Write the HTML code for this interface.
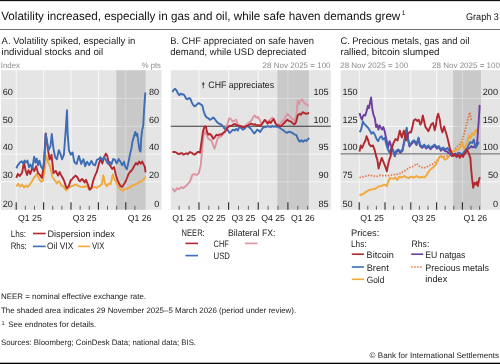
<!DOCTYPE html>
<html><head><meta charset="utf-8"><style>
html,body{margin:0;padding:0;background:#fff;width:500px;height:364px;overflow:hidden}
svg{display:block;font-family:"Liberation Sans", sans-serif;will-change:transform;text-rendering:geometricPrecision}
</style></head><body>
<svg width="500" height="364" viewBox="0 0 500 364">
<rect x="0" y="0" width="500" height="1.15" fill="#111"/>
<rect x="0" y="29.0" width="500" height="0.85" fill="#555"/>
<rect x="0" y="362.7" width="500" height="1.3" fill="#000"/>
<text x="1.2" y="19.8" font-size="11.9" fill="#111" textLength="399.1" lengthAdjust="spacingAndGlyphs">Volatility increased, especially in gas and oil, while safe haven demands grew</text>
<text x="401.8" y="14.9" font-size="6.6" fill="#111">1</text>
<text x="466" y="19.9" font-size="9.8" fill="#111" textLength="32.8" lengthAdjust="spacingAndGlyphs">Graph 3</text>
<text x="1.6" y="44" font-size="9.6" fill="#222" textLength="133.7" lengthAdjust="spacingAndGlyphs">A. Volatility spiked, especially in</text>
<text x="1.6" y="54.7" font-size="9.6" fill="#222" textLength="101.5" lengthAdjust="spacingAndGlyphs">individual stocks and oil</text>
<text x="170.3" y="44" font-size="9.6" fill="#222" textLength="143.7" lengthAdjust="spacingAndGlyphs">B. CHF appreciated on safe haven</text>
<text x="170.3" y="54.7" font-size="9.6" fill="#222" textLength="135.9" lengthAdjust="spacingAndGlyphs">demand, while USD depreciated</text>
<text x="340.4" y="44" font-size="9.6" fill="#222" textLength="129.1" lengthAdjust="spacingAndGlyphs">C. Precious metals, gas and oil</text>
<text x="340.4" y="54.7" font-size="9.6" fill="#222" textLength="99.1" lengthAdjust="spacingAndGlyphs">rallied, bitcoin slumped</text>
<text x="0.8" y="68.4" font-size="8" fill="#8a8a8a" textLength="19.2" lengthAdjust="spacingAndGlyphs">Index</text>
<text x="141.7" y="68.4" font-size="8" fill="#8a8a8a" textLength="19.2" lengthAdjust="spacingAndGlyphs">% pts</text>
<text x="262.6" y="68.4" font-size="8" fill="#8a8a8a" textLength="68.0" lengthAdjust="spacingAndGlyphs">28 Nov 2025 = 100</text>
<text x="340.2" y="68.4" font-size="8" fill="#8a8a8a" textLength="68.0" lengthAdjust="spacingAndGlyphs">28 Nov 2025 = 100</text>
<text x="432" y="68.4" font-size="8" fill="#8a8a8a" textLength="68" lengthAdjust="spacingAndGlyphs">28 Nov 2025 = 100</text>
<rect x="1" y="70.2" width="160.5" height="139.6" fill="#e5e5e5"/>
<line x1="1" y1="98.5" x2="161.5" y2="98.5" stroke="#fafafa" stroke-width="0.9"/>
<line x1="1" y1="126.3" x2="161.5" y2="126.3" stroke="#fafafa" stroke-width="0.9"/>
<line x1="1" y1="154.1" x2="161.5" y2="154.1" stroke="#fafafa" stroke-width="0.9"/>
<line x1="1" y1="181.9" x2="161.5" y2="181.9" stroke="#fafafa" stroke-width="0.9"/>
<line x1="16.2" y1="70.2" x2="16.2" y2="209.8" stroke="#fafafa" stroke-width="0.9"/>
<line x1="43.6" y1="70.2" x2="43.6" y2="209.8" stroke="#fafafa" stroke-width="0.9"/>
<line x1="71.0" y1="70.2" x2="71.0" y2="209.8" stroke="#fafafa" stroke-width="0.9"/>
<line x1="98.4" y1="70.2" x2="98.4" y2="209.8" stroke="#fafafa" stroke-width="0.9"/>
<line x1="125.8" y1="70.2" x2="125.8" y2="209.8" stroke="#fafafa" stroke-width="0.9"/>
<rect x="116.3" y="70.2" width="29.3" height="139.6" fill="#000" fill-opacity="0.12"/>
<line x1="16.2" y1="202.20000000000002" x2="16.2" y2="209.8" stroke="#2a2a2a" stroke-width="1.1"/>
<line x1="43.6" y1="202.20000000000002" x2="43.6" y2="209.8" stroke="#2a2a2a" stroke-width="1.1"/>
<line x1="71.0" y1="202.20000000000002" x2="71.0" y2="209.8" stroke="#2a2a2a" stroke-width="1.1"/>
<line x1="98.4" y1="202.20000000000002" x2="98.4" y2="209.8" stroke="#2a2a2a" stroke-width="1.1"/>
<line x1="125.8" y1="202.20000000000002" x2="125.8" y2="209.8" stroke="#2a2a2a" stroke-width="1.1"/>
<line x1="25.33" y1="205.8" x2="25.33" y2="209.8" stroke="#555" stroke-width="0.9"/>
<line x1="34.47" y1="205.8" x2="34.47" y2="209.8" stroke="#555" stroke-width="0.9"/>
<line x1="52.73" y1="205.8" x2="52.73" y2="209.8" stroke="#555" stroke-width="0.9"/>
<line x1="61.87" y1="205.8" x2="61.87" y2="209.8" stroke="#555" stroke-width="0.9"/>
<line x1="80.13" y1="205.8" x2="80.13" y2="209.8" stroke="#555" stroke-width="0.9"/>
<line x1="89.27" y1="205.8" x2="89.27" y2="209.8" stroke="#555" stroke-width="0.9"/>
<line x1="107.53" y1="205.8" x2="107.53" y2="209.8" stroke="#555" stroke-width="0.9"/>
<line x1="116.67" y1="205.8" x2="116.67" y2="209.8" stroke="#555" stroke-width="0.9"/>
<line x1="134.93" y1="205.8" x2="134.93" y2="209.8" stroke="#555" stroke-width="0.9"/>
<rect x="170.8" y="70.2" width="160.0" height="139.6" fill="#e5e5e5"/>
<line x1="170.8" y1="98.5" x2="330.8" y2="98.5" stroke="#fafafa" stroke-width="0.9"/>
<line x1="170.8" y1="126.3" x2="330.8" y2="126.3" stroke="#fafafa" stroke-width="0.9"/>
<line x1="170.8" y1="154.1" x2="330.8" y2="154.1" stroke="#fafafa" stroke-width="0.9"/>
<line x1="170.8" y1="181.9" x2="330.8" y2="181.9" stroke="#fafafa" stroke-width="0.9"/>
<line x1="198.95" y1="70.2" x2="198.95" y2="209.8" stroke="#fafafa" stroke-width="0.9"/>
<line x1="228.6" y1="70.2" x2="228.6" y2="209.8" stroke="#fafafa" stroke-width="0.9"/>
<line x1="258.25" y1="70.2" x2="258.25" y2="209.8" stroke="#fafafa" stroke-width="0.9"/>
<line x1="287.9" y1="70.2" x2="287.9" y2="209.8" stroke="#fafafa" stroke-width="0.9"/>
<rect x="277.3" y="70.2" width="31.5" height="139.6" fill="#000" fill-opacity="0.12"/>
<line x1="198.95" y1="202.20000000000002" x2="198.95" y2="209.8" stroke="#2a2a2a" stroke-width="1.1"/>
<line x1="228.6" y1="202.20000000000002" x2="228.6" y2="209.8" stroke="#2a2a2a" stroke-width="1.1"/>
<line x1="258.25" y1="202.20000000000002" x2="258.25" y2="209.8" stroke="#2a2a2a" stroke-width="1.1"/>
<line x1="287.9" y1="202.20000000000002" x2="287.9" y2="209.8" stroke="#2a2a2a" stroke-width="1.1"/>
<line x1="179.18" y1="205.8" x2="179.18" y2="209.8" stroke="#555" stroke-width="0.9"/>
<line x1="189.07" y1="205.8" x2="189.07" y2="209.8" stroke="#555" stroke-width="0.9"/>
<line x1="208.83" y1="205.8" x2="208.83" y2="209.8" stroke="#555" stroke-width="0.9"/>
<line x1="218.72" y1="205.8" x2="218.72" y2="209.8" stroke="#555" stroke-width="0.9"/>
<line x1="238.48" y1="205.8" x2="238.48" y2="209.8" stroke="#555" stroke-width="0.9"/>
<line x1="248.37" y1="205.8" x2="248.37" y2="209.8" stroke="#555" stroke-width="0.9"/>
<line x1="268.13" y1="205.8" x2="268.13" y2="209.8" stroke="#555" stroke-width="0.9"/>
<line x1="278.02" y1="205.8" x2="278.02" y2="209.8" stroke="#555" stroke-width="0.9"/>
<line x1="297.78" y1="205.8" x2="297.78" y2="209.8" stroke="#555" stroke-width="0.9"/>
<line x1="307.67" y1="205.8" x2="307.67" y2="209.8" stroke="#555" stroke-width="0.9"/>
<rect x="340.6" y="70.2" width="159.4" height="139.6" fill="#e5e5e5"/>
<line x1="340.6" y1="98.5" x2="500" y2="98.5" stroke="#fafafa" stroke-width="0.9"/>
<line x1="340.6" y1="126.3" x2="500" y2="126.3" stroke="#fafafa" stroke-width="0.9"/>
<line x1="340.6" y1="154.1" x2="500" y2="154.1" stroke="#fafafa" stroke-width="0.9"/>
<line x1="340.6" y1="181.9" x2="500" y2="181.9" stroke="#fafafa" stroke-width="0.9"/>
<line x1="359.2" y1="70.2" x2="359.2" y2="209.8" stroke="#fafafa" stroke-width="0.9"/>
<line x1="385.0" y1="70.2" x2="385.0" y2="209.8" stroke="#fafafa" stroke-width="0.9"/>
<line x1="410.8" y1="70.2" x2="410.8" y2="209.8" stroke="#fafafa" stroke-width="0.9"/>
<line x1="436.6" y1="70.2" x2="436.6" y2="209.8" stroke="#fafafa" stroke-width="0.9"/>
<line x1="462.4" y1="70.2" x2="462.4" y2="209.8" stroke="#fafafa" stroke-width="0.9"/>
<rect x="453.1" y="70.2" width="27.9" height="139.6" fill="#000" fill-opacity="0.12"/>
<line x1="359.2" y1="202.20000000000002" x2="359.2" y2="209.8" stroke="#2a2a2a" stroke-width="1.1"/>
<line x1="385.0" y1="202.20000000000002" x2="385.0" y2="209.8" stroke="#2a2a2a" stroke-width="1.1"/>
<line x1="410.8" y1="202.20000000000002" x2="410.8" y2="209.8" stroke="#2a2a2a" stroke-width="1.1"/>
<line x1="436.6" y1="202.20000000000002" x2="436.6" y2="209.8" stroke="#2a2a2a" stroke-width="1.1"/>
<line x1="462.4" y1="202.20000000000002" x2="462.4" y2="209.8" stroke="#2a2a2a" stroke-width="1.1"/>
<line x1="367.8" y1="205.8" x2="367.8" y2="209.8" stroke="#555" stroke-width="0.9"/>
<line x1="376.4" y1="205.8" x2="376.4" y2="209.8" stroke="#555" stroke-width="0.9"/>
<line x1="393.6" y1="205.8" x2="393.6" y2="209.8" stroke="#555" stroke-width="0.9"/>
<line x1="402.2" y1="205.8" x2="402.2" y2="209.8" stroke="#555" stroke-width="0.9"/>
<line x1="419.4" y1="205.8" x2="419.4" y2="209.8" stroke="#555" stroke-width="0.9"/>
<line x1="428.0" y1="205.8" x2="428.0" y2="209.8" stroke="#555" stroke-width="0.9"/>
<line x1="445.2" y1="205.8" x2="445.2" y2="209.8" stroke="#555" stroke-width="0.9"/>
<line x1="453.8" y1="205.8" x2="453.8" y2="209.8" stroke="#555" stroke-width="0.9"/>
<line x1="471.0" y1="205.8" x2="471.0" y2="209.8" stroke="#555" stroke-width="0.9"/>
<line x1="479.6" y1="205.8" x2="479.6" y2="209.8" stroke="#555" stroke-width="0.9"/>
<text x="208.3" y="88.3" font-size="9.4" fill="#222" textLength="65.8" lengthAdjust="spacingAndGlyphs">CHF appreciates</text>
<line x1="203.3" y1="88.4" x2="203.3" y2="83.5" stroke="#333" stroke-width="0.8"/>
<path d="M201.9,84.6 L203.3,81.8 L204.7,84.6 Z" fill="#333"/>
<line x1="170.8" y1="126.3" x2="330.8" y2="126.3" stroke="#333" stroke-width="1.1"/>
<path d="M16.3,186.5 L18.2,183.7 L20.2,186.5 L22.1,184.6 L24.0,187.5 L25.9,185.6 L27.8,186.9 L29.8,184.6 L31.0,182.5 L32.3,180.8 L33.5,178.4 L34.8,176.9 L36.7,174.0 L38.6,177.9 L39.8,180.0 L40.9,181.7 L42.8,180.8 L44.8,169.2 L46.3,155.8 L48.2,162.5 L49.4,164.8 L50.5,168.3 L52.3,176.7 L53.5,178.5 L54.6,180.1 L55.8,181.7 L56.9,183.6 L58.0,181.8 L59.2,181.3 L60.4,183.6 L61.5,185.9 L62.7,185.9 L63.9,187.1 L65.0,188.7 L66.2,190.5 L67.3,188.7 L68.5,188.2 L69.6,186.9 L70.8,186.6 L71.9,185.9 L73.1,186.0 L74.2,184.6 L75.4,184.7 L76.6,184.7 L77.7,185.7 L78.9,185.9 L80.0,186.9 L81.2,186.8 L82.3,187.1 L83.5,186.6 L84.6,187.0 L85.8,185.9 L87.2,186.8 L88.7,188.9 L90.1,189.0 L91.4,188.0 L92.8,187.3 L94.2,187.1 L95.6,187.1 L96.9,188.0 L98.2,186.6 L99.6,186.2 L100.8,185.0 L101.9,184.3 L103.2,175.3 L105.0,183.4 L106.8,186.2 L108.6,183.4 L110.5,184.3 L111.7,179.8 L112.8,174.4 L114.6,179.8 L115.7,181.2 L116.8,183.4 L118.3,186.9 L119.4,188.2 L120.6,189.2 L121.8,190.2 L122.9,190.8 L124.1,189.8 L125.2,189.2 L126.3,188.9 L127.5,188.5 L128.7,187.5 L129.8,187.7 L131.0,186.3 L132.2,186.2 L133.3,185.0 L134.5,184.6 L135.7,184.5 L136.8,183.8 L137.9,182.9 L139.1,182.3 L140.2,181.6 L141.4,181.5 L142.6,180.5 L143.7,179.2 L145.5,176.9" fill="none" stroke="#f2a93b" stroke-width="1.9" stroke-linejoin="round"/>
<path d="M16.3,177.9 L17.8,174.0 L19.8,176.0 L21.0,174.3 L22.1,172.7 L24.0,162.5 L25.5,170.2 L27.1,175.0 L28.4,170.2 L30.3,174.0 L32.3,167.3 L34.2,171.2 L36.1,166.3 L38.0,173.1 L40.0,175.0 L41.9,177.9 L43.8,165.4 L45.7,133.5 L47.7,148.0 L49.6,159.6 L51.5,154.8 L53.5,173.2 L54.6,171.8 L55.8,170.9 L57.0,173.6 L58.1,175.5 L59.7,172.0 L60.9,174.6 L62.0,176.7 L63.1,178.6 L64.3,181.3 L65.4,184.9 L66.6,188.2 L67.8,187.1 L68.9,185.9 L70.8,180.1 L71.9,179.5 L73.1,177.8 L74.2,177.0 L75.4,175.5 L76.6,176.4 L77.7,177.8 L78.8,180.2 L80.0,181.3 L81.2,179.6 L82.3,179.0 L83.4,180.6 L84.6,182.4 L86.0,179.8 L87.8,184.3 L89.6,189.8 L91.4,188.0 L93.2,180.7 L95.1,175.3 L96.9,171.7 L98.7,164.4 L100.5,159.0 L102.3,163.5 L104.1,157.2 L105.9,153.6 L107.4,156.3 L108.6,163.5 L110.5,166.2 L112.3,168.9 L114.1,167.1 L115.9,175.3 L117.7,180.7 L119.5,184.3 L120.6,186.2 L122.2,186.9 L123.7,184.6 L125.2,182.3 L126.8,178.5 L128.3,174.6 L129.8,172.3 L131.4,170.8 L132.9,168.5 L134.5,165.4 L136.0,163.1 L137.5,164.6 L139.1,161.5 L140.6,163.8 L142.2,161.5 L143.7,164.6 L144.9,166.9 L145.5,172.3" fill="none" stroke="#b3282e" stroke-width="1.9" stroke-linejoin="round"/>
<path d="M16.3,168.3 L17.8,165.4 L19.8,162.5 L21.7,161.2 L23.2,163.5 L24.6,160.6 L25.9,162.5 L27.5,160.6 L29.0,167.3 L30.3,164.4 L32.3,168.3 L34.2,156.7 L35.5,162.5 L36.7,158.7 L38.0,165.4 L39.4,160.6 L40.9,166.3 L42.8,169.2 L44.4,159.6 L45.7,133.7 L47.1,142.3 L48.6,150.0 L50.5,146.2 L51.8,133.9 L53.5,149.0 L55.1,157.0 L56.9,159.3 L58.8,150.1 L60.4,153.6 L62.0,159.3 L63.9,154.7 L65.7,130.5 L67.0,110.3 L67.6,132.8 L68.9,150.1 L70.8,154.7 L72.6,152.4 L74.2,161.7 L75.4,163.2 L76.6,164.0 L77.8,159.5 L78.9,155.9 L80.1,159.9 L81.2,164.0 L82.3,161.0 L83.5,159.3 L85.1,166.3 L87.0,161.7 L88.2,163.6 L89.3,165.1 L91.4,160.8 L93.2,164.4 L95.1,165.3 L96.9,159.9 L98.7,159.0 L100.5,157.2 L102.3,159.9 L104.1,157.2 L105.9,159.9 L107.7,163.5 L109.6,161.7 L111.4,164.4 L113.2,159.0 L115.0,159.9 L116.8,163.5 L118.6,159.0 L120.4,161.7 L122.2,165.3 L124.0,161.7 L125.2,166.9 L126.8,169.2 L128.3,163.1 L129.8,155.4 L131.4,148.5 L132.5,141.5 L134.4,134.8 L135.4,131.9 L136.3,135.8 L137.3,133.8 L138.3,141.5 L139.2,148.0 L139.8,150.8 L140.6,151.5 L141.2,138.0 L142.2,130.0 L143.2,125.5 L144.2,108.0 L145.3,92.5" fill="none" stroke="#3d6db5" stroke-width="1.9" stroke-linejoin="round"/>
<path d="M172.4,188.2 L174.6,191.5 L175.7,190.2 L176.8,188.2 L179.0,189.3 L181.2,187.1 L182.3,187.8 L183.4,188.2 L185.6,186.0 L186.7,185.4 L187.8,183.8 L190.0,181.6 L192.2,175.1 L193.3,174.3 L194.4,174.0 L196.6,175.1 L197.7,174.3 L198.8,172.9 L200.8,165.0 L202.0,151.1 L203.3,138.0 L204.6,131.4 L206.3,133.8 L207.9,138.0 L209.6,139.6 L211.2,140.4 L212.9,144.5 L214.5,148.7 L216.1,143.7 L217.8,138.0 L219.4,137.1 L221.1,136.3 L223.1,133.8 L224.7,131.4 L226.4,126.4 L228.0,122.3 L229.3,118.2 L231.0,119.0 L232.6,121.5 L234.6,120.7 L236.2,119.8 L237.6,123.9 L239.2,126.4 L241.2,128.1 L243.2,127.2 L245.3,126.4 L247.3,123.7 L249.5,122.2 L250.7,121.2 L251.8,119.9 L253.3,116.9 L254.8,115.4 L256.3,117.7 L257.8,116.9 L259.4,119.2 L260.9,123.0 L262.4,123.7 L263.9,121.4 L265.4,119.9 L266.9,122.2 L268.4,121.4 L269.9,119.9 L271.4,118.4 L272.9,117.7 L274.5,120.7 L276.0,123.7 L277.5,124.0 L278.7,124.4 L279.9,124.5 L281.1,122.8 L282.4,121.2 L283.6,120.0 L284.9,117.9 L286.1,116.5 L287.4,113.8 L288.6,115.0 L289.8,116.3 L291.1,117.8 L292.3,118.8 L293.6,119.4 L294.8,121.2 L296.4,115.5 L297.7,100.8 L298.9,104.0 L300.5,100.5 L302.2,99.2 L303.8,102.3 L305.5,104.0 L307.1,104.5 L308.8,106.0" fill="none" stroke="#dc95a0" stroke-width="1.9" stroke-linejoin="round"/>
<path d="M172.5,91.9 L173.8,89.8 L175.2,88.8 L176.6,90.5 L178.0,93.5 L179.3,95.3 L180.7,93.5 L182.1,94.6 L183.5,94.3 L184.8,96.0 L186.2,98.7 L187.6,99.4 L189.0,98.0 L190.3,98.7 L191.7,102.2 L193.1,104.9 L194.5,106.3 L195.8,105.6 L197.2,104.2 L198.8,102.9 L200.5,104.2 L202.3,105.6 L203.5,110.5 L204.9,114.9 L206.6,117.4 L208.2,118.2 L209.9,119.8 L211.5,119.0 L213.2,117.4 L214.8,119.0 L216.5,121.5 L218.1,123.1 L219.8,123.9 L221.4,124.8 L223.1,126.4 L224.7,128.9 L226.4,128.1 L228.0,130.5 L229.7,133.0 L231.3,131.4 L232.9,129.7 L234.6,130.5 L236.2,128.9 L237.9,130.5 L239.5,126.4 L241.2,128.1 L242.8,129.7 L244.5,128.9 L246.5,126.0 L248.0,126.7 L249.5,127.5 L251.0,129.0 L252.6,131.3 L254.1,133.5 L255.6,132.0 L257.1,129.7 L258.6,130.5 L260.1,132.0 L261.6,129.7 L263.1,127.5 L264.2,127.4 L265.4,126.7 L266.5,126.8 L267.7,126.4 L269.9,126.7 L271.0,127.0 L272.2,126.0 L273.4,126.7 L274.5,126.4 L276.7,126.7 L277.9,126.8 L279.0,127.5 L280.1,128.1 L281.3,129.0 L283.5,130.5 L285.0,131.8 L286.2,132.5 L287.4,132.8 L288.6,131.7 L289.8,132.0 L291.1,132.3 L292.3,132.8 L294.4,134.4 L296.4,135.2 L298.1,139.4 L299.7,141.8 L301.4,140.2 L303.0,141.8 L304.7,140.2 L306.3,141.0 L307.9,139.4 L309.1,137.7" fill="none" stroke="#3d6db5" stroke-width="1.9" stroke-linejoin="round"/>
<path d="M172.4,152.0 L174.6,152.0 L175.7,152.1 L176.8,153.1 L179.0,154.2 L181.2,153.1 L182.3,153.3 L183.4,154.6 L185.6,153.7 L186.7,153.3 L187.8,154.2 L190.0,152.0 L192.2,153.1 L193.3,154.2 L194.4,154.6 L196.6,153.1 L197.7,152.0 L198.8,152.0 L200.0,152.8 L201.6,141.2 L203.0,131.4 L204.6,126.4 L205.8,126.4 L206.9,131.4 L208.2,134.7 L209.9,133.8 L211.5,135.5 L213.2,138.8 L214.8,137.1 L216.5,134.7 L218.1,135.5 L219.8,134.3 L221.4,134.7 L223.1,133.0 L224.7,132.2 L226.4,129.7 L228.0,127.2 L229.7,125.6 L231.3,126.1 L232.9,124.8 L234.6,123.9 L236.2,124.8 L237.9,125.6 L239.5,125.6 L241.2,126.4 L242.8,127.2 L245.0,126.7 L246.2,126.0 L247.3,126.0 L249.5,124.5 L250.7,123.9 L251.8,123.7 L252.9,124.6 L254.1,124.5 L255.2,124.3 L256.3,125.2 L257.5,125.1 L258.6,125.2 L260.1,126.0 L261.6,124.5 L263.1,122.2 L264.6,119.9 L266.1,121.4 L267.7,123.7 L269.2,121.4 L270.7,123.0 L272.2,120.7 L273.7,119.2 L275.2,123.0 L276.7,125.2 L278.3,125.4 L279.6,125.9 L280.8,126.2 L282.0,125.5 L283.2,123.7 L284.4,122.9 L285.7,121.2 L287.4,119.6 L288.6,120.9 L289.8,121.2 L291.1,121.7 L292.3,122.9 L294.4,124.5 L296.1,122.1 L297.7,115.5 L299.4,113.8 L301.0,114.7 L302.7,112.2 L304.3,113.0 L306.3,113.8 L307.7,113.3 L309.1,113.0" fill="none" stroke="#b3282e" stroke-width="1.9" stroke-linejoin="round"/>
<line x1="340.6" y1="153.9" x2="500" y2="153.9" stroke="#7a7a7a" stroke-width="1.2"/>
<path d="M359.5,177.5 L363.9,176.6 L368.4,175.4 L372.9,175.7 L376.4,176.6 L380.0,175.4 L383.6,175.7 L387.1,175.7 L390.0,175.4 L393.9,174.7 L397.8,174.1 L401.7,172.8 L405.6,170.2 L409.5,167.6 L413.4,166.3 L416.7,163.7 L419.3,166.3 L422.5,167.6 L425.8,167.6 L429.0,165.6 L432.3,164.3 L434.9,162.4 L437.5,159.8 L439.4,157.2 L443.8,156.5 L448.0,155.8 L452.2,153.0 L454.9,149.5 L457.4,146.5 L459.8,144.0 L462.0,140.8 L464.5,132.2 L466.9,123.5 L468.8,116.1 L469.7,112.4 L470.6,116.0 L471.4,121.0" fill="none" stroke="#e4713a" stroke-width="1.7" stroke-linejoin="round" stroke-dasharray="1.4 1.5"/>
<path d="M359.5,195.4 L360.7,194.6 L361.8,194.7 L363.0,193.6 L364.2,193.6 L365.4,191.9 L366.6,191.8 L367.8,190.7 L369.0,190.2 L370.2,190.0 L371.4,189.3 L372.6,189.4 L373.8,189.1 L375.1,188.8 L376.4,188.2 L377.6,187.3 L378.8,186.3 L380.0,186.4 L381.4,185.8 L382.7,185.5 L383.9,184.9 L385.0,184.6 L386.8,186.4 L388.0,182.0 L390.0,178.0 L391.3,178.4 L392.6,178.6 L393.9,178.6 L395.2,177.3 L397.2,179.9 L399.1,176.7 L400.4,177.3 L401.7,177.3 L403.0,176.7 L404.3,176.0 L405.6,176.8 L406.9,177.3 L408.2,177.9 L409.5,178.0 L410.8,176.7 L412.1,176.7 L413.4,177.6 L414.7,177.3 L416.7,176.0 L418.0,177.0 L419.3,177.3 L420.6,177.5 L421.9,176.7 L423.2,177.4 L424.5,177.3 L426.4,175.4 L428.4,172.1 L430.3,169.5 L431.6,168.4 L432.9,167.6 L434.2,166.2 L435.5,165.0 L437.5,161.7 L438.8,157.8 L440.7,155.9 L442.0,156.3 L443.3,157.8 L445.3,159.8 L447.2,158.5 L449.2,155.9 L450.4,154.1 L451.6,152.0 L453.2,151.0 L454.9,151.2 L456.0,150.0 L457.1,149.7 L458.2,149.5 L459.4,147.8 L460.7,147.1 L462.3,142.1 L463.9,149.5 L465.6,145.4 L467.2,143.0 L468.9,135.5 L470.5,138.0 L472.0,133.0 L473.7,135.2 L475.9,129.7 L477.0,131.9 L478.1,128.6" fill="none" stroke="#f2a93b" stroke-width="1.9" stroke-linejoin="round"/>
<path d="M359.6,113.1 L360.8,117.2 L361.9,119.7 L362.9,116.4 L364.1,114.8 L365.2,115.6 L366.5,111.5 L367.9,105.7 L369.0,108.2 L370.2,101.6 L371.1,97.5 L372.3,109.0 L373.5,114.8 L374.8,118.1 L376.1,127.1 L377.2,124.7 L378.4,129.6 L379.7,125.5 L381.0,128.0 L382.2,129.6 L383.3,127.1 L384.7,131.2 L386.0,137.8 L387.1,142.8 L387.9,147.7 L389.6,141.1 L391.2,146.1 L392.9,150.6 L394.8,156.3 L396.2,152.1 L398.3,150.7 L400.4,152.8 L402.5,150.7 L404.6,140.2 L406.7,129.0 L408.1,140.2 L409.5,146.5 L411.6,143.7 L413.0,142.4 L414.4,141.6 L416.5,145.1 L418.6,138.8 L420.0,145.8 L422.1,147.9 L424.2,145.8 L426.3,148.6 L428.4,146.5 L430.5,149.3 L432.6,147.2 L434.7,145.8 L436.8,148.6 L438.9,147.2 L441.0,150.7 L443.1,148.6 L445.0,151.2 L446.1,151.1 L447.2,151.6 L448.3,152.8 L449.4,153.4 L450.5,154.4 L451.6,156.1 L453.2,154.7 L454.9,153.7 L456.0,153.8 L457.1,155.8 L458.2,156.1 L459.3,156.0 L460.4,155.1 L461.5,155.3 L462.6,154.4 L463.7,154.0 L464.8,153.7 L465.9,151.8 L467.0,149.8 L468.1,148.7 L469.8,147.9 L471.4,146.2 L472.5,147.2 L473.6,146.8 L474.7,147.1 L475.9,145.0 L477.1,143.0 L478.8,119.9 L479.7,104.9" fill="none" stroke="#6e3fa0" stroke-width="1.9" stroke-linejoin="round"/>
<path d="M359.6,132.1 L360.8,130.4 L361.9,126.3 L362.9,121.4 L364.1,123.8 L365.2,124.7 L366.5,126.3 L368.2,127.9 L369.8,130.4 L371.5,133.7 L373.1,132.1 L374.8,134.5 L376.4,138.7 L378.1,141.1 L379.7,137.8 L381.4,136.2 L383.0,139.5 L384.7,137.8 L386.3,144.4 L387.9,149.4 L389.6,152.7 L391.2,147.7 L392.9,149.4 L394.8,155.1 L396.2,150.9 L398.3,149.5 L400.4,151.6 L402.5,149.5 L404.6,139.0 L406.7,127.8 L408.1,139.0 L409.5,145.3 L411.6,142.5 L413.0,140.9 L414.4,140.4 L416.5,143.9 L418.6,137.6 L420.0,144.6 L422.1,146.7 L424.2,144.6 L426.3,147.4 L428.4,145.3 L430.5,148.1 L432.6,146.0 L434.7,144.6 L436.8,147.4 L438.9,146.0 L441.0,149.5 L443.1,147.4 L445.2,149.5 L447.3,148.1 L449.4,150.9 L450.5,152.1 L451.6,154.5 L453.2,154.7 L454.9,155.3 L456.0,154.1 L457.1,154.1 L458.2,152.8 L459.3,152.9 L460.4,153.3 L461.5,154.5 L462.6,154.0 L463.7,152.3 L464.8,151.2 L466.0,149.1 L467.2,147.9 L468.9,144.6 L470.5,142.1 L472.2,142.9 L473.8,139.7 L475.5,147.9 L477.1,145.4 L478.8,142.0" fill="none" stroke="#3d6db5" stroke-width="1.9" stroke-linejoin="round"/>
<path d="M359.5,151.6 L360.7,145.4 L362.1,148.0 L363.9,143.6 L365.7,140.0 L366.5,136.2 L367.9,139.5 L369.3,144.5 L371.1,146.2 L372.9,145.4 L374.6,149.8 L376.1,156.1 L377.3,159.6 L378.6,168.6 L380.0,163.2 L381.8,157.9 L383.6,162.3 L385.4,166.8 L386.8,171.3 L388.0,165.0 L389.3,159.6 L390.7,156.1 L391.3,150.2 L393.4,143.2 L395.5,139.0 L397.6,140.4 L399.7,130.6 L401.8,137.6 L403.9,130.6 L406.0,140.4 L408.1,133.4 L410.2,132.0 L411.0,132.4 L412.7,125.8 L413.8,120.3 L415.5,119.2 L417.1,120.9 L418.8,119.8 L420.4,124.7 L421.5,122.5 L422.8,115.4 L423.9,120.3 L425.4,126.9 L427.0,129.1 L428.3,131.3 L429.8,128.0 L431.4,124.2 L433.1,123.1 L434.7,130.2 L435.8,125.8 L437.1,117.0 L438.2,113.7 L439.7,119.2 L440.8,126.9 L442.4,132.4 L444.1,126.4 L445.2,130.2 L446.6,134.7 L448.3,141.3 L449.9,148.7 L451.6,152.8 L453.2,156.1 L454.9,154.5 L456.5,157.0 L458.2,154.5 L459.8,157.8 L461.5,154.5 L463.1,157.0 L464.6,153.2 L465.9,151.6 L467.1,149.9 L468.7,153.2 L470.4,158.1 L471.2,169.7 L472.0,177.9 L473.2,187.8 L474.5,182.8 L475.8,184.5 L476.9,182.0 L477.8,186.1 L479.1,179.5 L479.9,177.1" fill="none" stroke="#b3282e" stroke-width="1.9" stroke-linejoin="round"/>
<text x="2.7" y="94.8" font-size="9.1" fill="#222">60</text>
<text x="2.7" y="122.6" font-size="9.1" fill="#222">50</text>
<text x="2.7" y="150.4" font-size="9.1" fill="#222">40</text>
<text x="2.7" y="178.20000000000002" font-size="9.1" fill="#222">30</text>
<text x="2.7" y="207.1" font-size="9.1" fill="#222">20</text>
<text x="159.2" y="94.8" font-size="9.1" fill="#222" text-anchor="end">80</text>
<text x="159.2" y="122.6" font-size="9.1" fill="#222" text-anchor="end">60</text>
<text x="159.2" y="150.4" font-size="9.1" fill="#222" text-anchor="end">40</text>
<text x="159.2" y="178.20000000000002" font-size="9.1" fill="#222" text-anchor="end">20</text>
<text x="159.2" y="207.1" font-size="9.1" fill="#222" text-anchor="end">0</text>
<text x="328.7" y="94.8" font-size="9.1" fill="#222" text-anchor="end">105</text>
<text x="328.7" y="122.6" font-size="9.1" fill="#222" text-anchor="end">100</text>
<text x="328.7" y="150.4" font-size="9.1" fill="#222" text-anchor="end">95</text>
<text x="328.7" y="178.20000000000002" font-size="9.1" fill="#222" text-anchor="end">90</text>
<text x="328.7" y="207.1" font-size="9.1" fill="#222" text-anchor="end">85</text>
<text x="342.4" y="94.8" font-size="9.1" fill="#222">150</text>
<text x="342.4" y="122.6" font-size="9.1" fill="#222">125</text>
<text x="342.4" y="150.4" font-size="9.1" fill="#222">100</text>
<text x="342.4" y="178.20000000000002" font-size="9.1" fill="#222">75</text>
<text x="342.4" y="207.1" font-size="9.1" fill="#222">50</text>
<text x="498" y="94.8" font-size="9.1" fill="#222" text-anchor="end">200</text>
<text x="498" y="122.6" font-size="9.1" fill="#222" text-anchor="end">150</text>
<text x="498" y="150.4" font-size="9.1" fill="#222" text-anchor="end">100</text>
<text x="498" y="178.20000000000002" font-size="9.1" fill="#222" text-anchor="end">50</text>
<text x="498" y="207.1" font-size="9.1" fill="#222" text-anchor="end">0</text>
<text x="29.9" y="220.9" font-size="8.7" fill="#222" text-anchor="middle">Q1 25</text>
<text x="84.7" y="220.9" font-size="8.7" fill="#222" text-anchor="middle">Q3 25</text>
<text x="139.5" y="220.9" font-size="8.7" fill="#222" text-anchor="middle">Q1 26</text>
<text x="184.12" y="220.9" font-size="8.7" fill="#222" text-anchor="middle">Q1 25</text>
<text x="213.78" y="220.9" font-size="8.7" fill="#222" text-anchor="middle">Q2 25</text>
<text x="243.43" y="220.9" font-size="8.7" fill="#222" text-anchor="middle">Q3 25</text>
<text x="273.07" y="220.9" font-size="8.7" fill="#222" text-anchor="middle">Q4 25</text>
<text x="302.73" y="220.9" font-size="8.7" fill="#222" text-anchor="middle">Q1 26</text>
<text x="372.1" y="220.9" font-size="8.7" fill="#222" text-anchor="middle">Q1 25</text>
<text x="423.7" y="220.9" font-size="8.7" fill="#222" text-anchor="middle">Q3 25</text>
<text x="475.3" y="220.9" font-size="8.7" fill="#222" text-anchor="middle">Q1 26</text>
<text x="10.7" y="236.5" font-size="9.3" fill="#222" textLength="15.4" lengthAdjust="spacingAndGlyphs">Lhs:</text>
<line x1="33" y1="233.5" x2="45.7" y2="233.5" stroke="#b3282e" stroke-width="1.6"/>
<text x="47.5" y="236.5" font-size="9.3" fill="#222" textLength="67.4" lengthAdjust="spacingAndGlyphs">Dispersion index</text>
<text x="10.7" y="249.1" font-size="9.3" fill="#222" textLength="16.1" lengthAdjust="spacingAndGlyphs">Rhs:</text>
<line x1="33" y1="246.4" x2="45.7" y2="246.4" stroke="#3d6db5" stroke-width="1.6"/>
<text x="47.1" y="249.1" font-size="9.3" fill="#222" textLength="26.2" lengthAdjust="spacingAndGlyphs">Oil VIX</text>
<line x1="78.1" y1="246.4" x2="90" y2="246.4" stroke="#f2a93b" stroke-width="1.6"/>
<text x="91.9" y="249.1" font-size="9.3" fill="#222" textLength="12.4" lengthAdjust="spacingAndGlyphs">VIX</text>
<text x="181.6" y="235.5" font-size="9.3" fill="#222" textLength="23.1" lengthAdjust="spacingAndGlyphs">NEER:</text>
<text x="228" y="235.8" font-size="9.3" fill="#222" textLength="47.5" lengthAdjust="spacingAndGlyphs">Bilateral FX:</text>
<line x1="185.4" y1="243.4" x2="198" y2="243.4" stroke="#b3282e" stroke-width="1.6"/>
<text x="213.5" y="246.9" font-size="9.3" fill="#222" textLength="15.3" lengthAdjust="spacingAndGlyphs">CHF</text>
<line x1="245" y1="243.4" x2="257.5" y2="243.4" stroke="#dc95a0" stroke-width="1.6"/>
<line x1="185.4" y1="255.6" x2="198" y2="255.6" stroke="#3d6db5" stroke-width="1.6"/>
<text x="213.5" y="259.3" font-size="9.3" fill="#222" textLength="16.5" lengthAdjust="spacingAndGlyphs">USD</text>
<text x="351" y="235.8" font-size="9.3" fill="#222" textLength="28.3" lengthAdjust="spacingAndGlyphs">Prices:</text>
<text x="351" y="246.6" font-size="9.3" fill="#222" textLength="15.7" lengthAdjust="spacingAndGlyphs">Lhs:</text>
<text x="411.6" y="246.6" font-size="9.3" fill="#222" textLength="17.7" lengthAdjust="spacingAndGlyphs">Rhs:</text>
<line x1="351.8" y1="254.2" x2="363.9" y2="254.2" stroke="#b3282e" stroke-width="1.6"/>
<text x="366.6" y="258" font-size="9.3" fill="#222" textLength="27.3" lengthAdjust="spacingAndGlyphs">Bitcoin</text>
<line x1="351.8" y1="267" x2="363.9" y2="267" stroke="#3d6db5" stroke-width="1.6"/>
<text x="366.7" y="270.6" font-size="9.3" fill="#222" textLength="22.1" lengthAdjust="spacingAndGlyphs">Brent</text>
<line x1="351.8" y1="279.3" x2="363.9" y2="279.3" stroke="#f2a93b" stroke-width="1.6"/>
<text x="366.7" y="282.8" font-size="9.3" fill="#222" textLength="17.7" lengthAdjust="spacingAndGlyphs">Gold</text>
<line x1="411.2" y1="254.2" x2="423.2" y2="254.2" stroke="#6e3fa0" stroke-width="1.6"/>
<text x="425.3" y="258" font-size="9.3" fill="#222" textLength="40.1" lengthAdjust="spacingAndGlyphs">EU natgas</text>
<line x1="411.2" y1="267" x2="423.2" y2="267" stroke="#e4713a" stroke-width="1.6" stroke-dasharray="1.5 1.5"/>
<text x="425.3" y="270.6" font-size="9.3" fill="#222" textLength="63.7" lengthAdjust="spacingAndGlyphs">Precious metals</text>
<text x="425.3" y="281.5" font-size="9.3" fill="#222" textLength="22.0" lengthAdjust="spacingAndGlyphs">index</text>
<text x="1" y="299.3" font-size="7.9" fill="#222" textLength="145" lengthAdjust="spacingAndGlyphs">NEER = nominal effective exchange rate.</text>
<text x="1" y="313" font-size="7.9" fill="#222" textLength="295.2" lengthAdjust="spacingAndGlyphs">The shaded area indicates 29 November 2025–5 March 2026 (period under review).</text>
<text x="1.6" y="324.7" font-size="5.6" fill="#222">1</text>
<text x="8.3" y="327.4" font-size="7.9" fill="#222" textLength="88.0" lengthAdjust="spacingAndGlyphs">See endnotes for details.</text>
<text x="1" y="344.8" font-size="7.9" fill="#222" textLength="195" lengthAdjust="spacingAndGlyphs">Sources: Bloomberg; CoinDesk Data; national data; BIS.</text>
<text x="369.6" y="357.6" font-size="7.9" fill="#222" textLength="129.4" lengthAdjust="spacingAndGlyphs">© Bank for International Settlements</text>
</svg></body></html>
